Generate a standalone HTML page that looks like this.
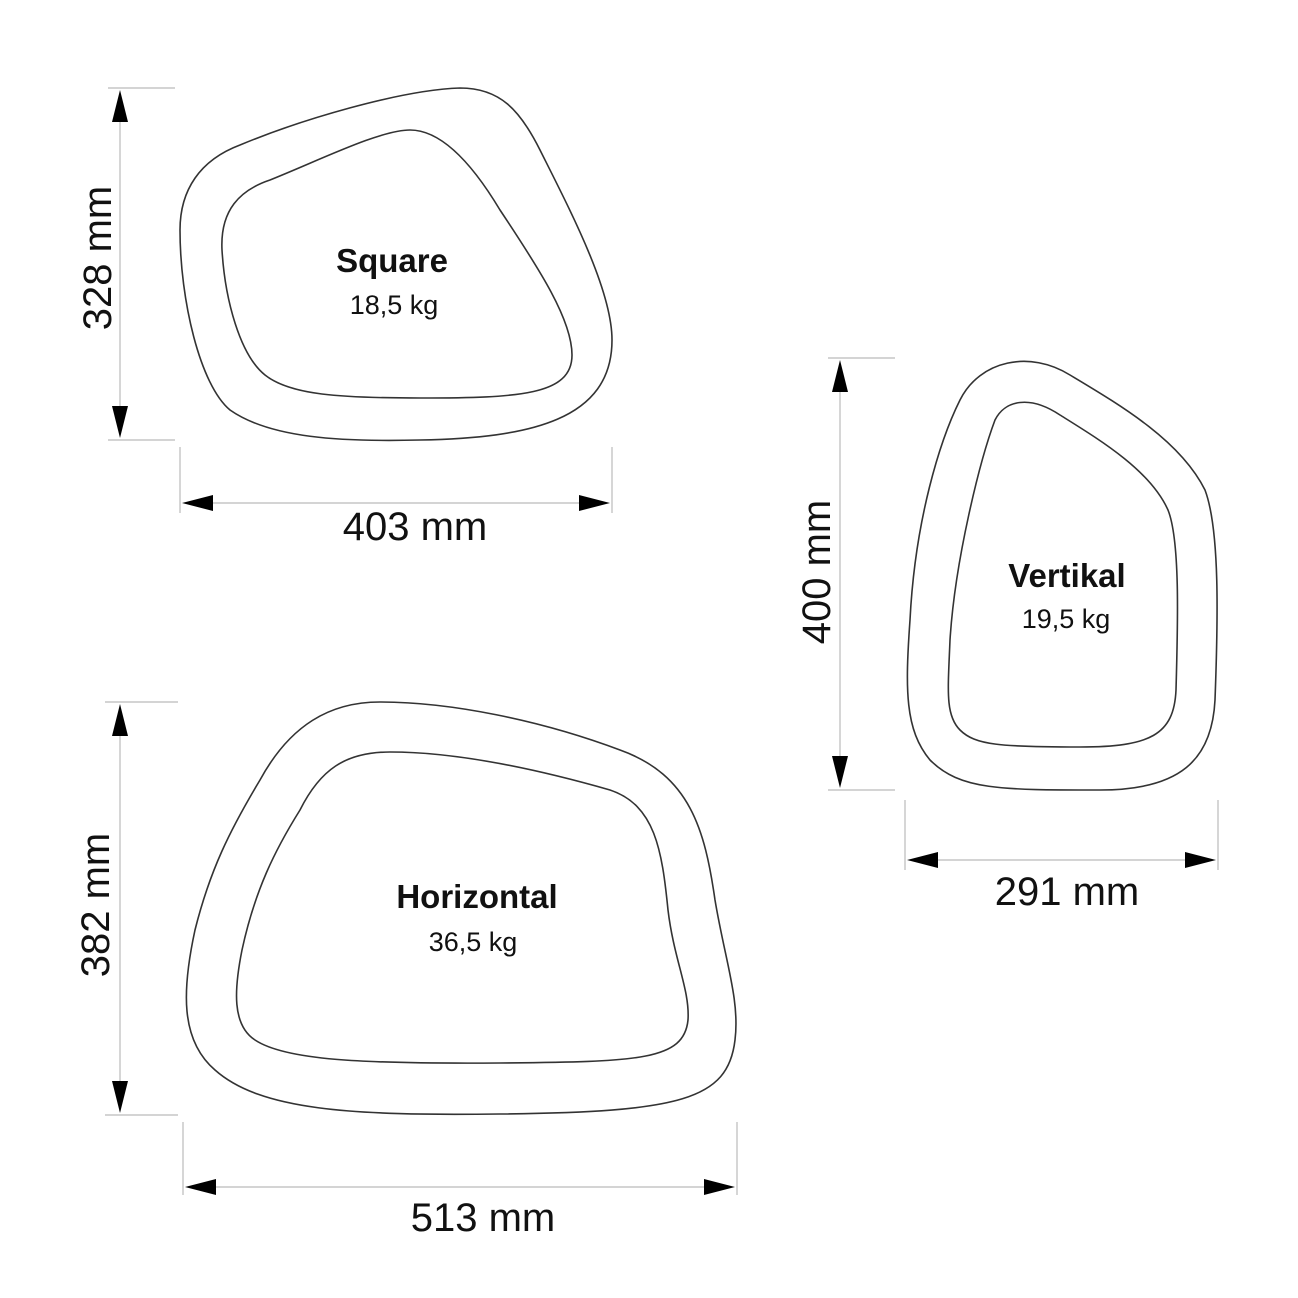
<!DOCTYPE html>
<html><head><style>
html,body{margin:0;padding:0;background:#fff;}
svg{display:block;}
text{font-family:"Liberation Sans Narrow","Liberation Sans",sans-serif;fill:#111;}
</style></head><body>
<svg width="1298" height="1298" viewBox="0 0 1298 1298" xmlns="http://www.w3.org/2000/svg">
<g fill="none" stroke="#333" stroke-width="1.6">
<path d="M 240,145 C 300,120 400,90 460,88 C 500,88 520,110 540,150 C 570,210 612,290 612,340 C 612,420 530,438 420,440 C 340,442 270,438 230,410 C 200,385 180,300 180,230 C 180,190 200,160 240,145 Z"/>
<path d="M 270,180 C 320,160 380,130 410,130 C 440,130 470,160 500,210 C 540,270 572,320 572,355 C 572,395 520,398 420,398 C 340,398 290,395 265,375 C 240,355 225,300 222,250 C 220,210 240,190 270,180 Z"/>
<path d="M 960,400 C 980,360 1030,350 1070,375 C 1120,405 1180,440 1205,490 C 1220,530 1218,620 1215,700 C 1212,760 1180,790 1100,790 C 1000,790 960,790 930,760 C 905,730 905,690 910,620 C 915,520 940,440 960,400 Z"/>
<path d="M 995,420 C 1005,400 1030,395 1060,415 C 1100,440 1150,470 1168,510 C 1180,540 1178,620 1176,690 C 1174,735 1150,747 1080,747 C 1000,747 975,745 960,730 C 945,715 948,690 950,640 C 955,560 980,460 995,420 Z"/>
<path d="M 260,780 C 290,725 330,702 380,702 C 450,702 540,720 620,750 C 690,775 705,830 715,900 C 725,960 740,1000 735,1040 C 728,1100 680,1112 500,1114 C 350,1116 260,1110 215,1070 C 180,1040 182,990 195,930 C 210,870 230,830 260,780 Z"/>
<path d="M 300,810 C 320,770 345,752 390,752 C 460,752 540,770 610,790 C 655,805 662,850 668,910 C 674,960 690,990 688,1020 C 684,1060 640,1062 500,1063 C 360,1064 285,1060 255,1040 C 232,1025 234,990 242,950 C 255,890 275,850 300,810 Z"/>
</g>
<g stroke="#bbb" stroke-width="1.2" fill="none">
<line x1="108" y1="88" x2="175" y2="88"/><line x1="108" y1="440" x2="175" y2="440"/><line x1="120" y1="118" x2="120" y2="410"/>
<line x1="180" y1="447" x2="180" y2="513"/><line x1="612" y1="447" x2="612" y2="513"/><line x1="210" y1="503" x2="582" y2="503"/>
<line x1="828" y1="358" x2="895" y2="358"/><line x1="828" y1="790" x2="895" y2="790"/><line x1="840" y1="388" x2="840" y2="760"/>
<line x1="905" y1="800" x2="905" y2="870"/><line x1="1218" y1="800" x2="1218" y2="870"/><line x1="935" y1="860" x2="1188" y2="860"/>
<line x1="105" y1="702" x2="178" y2="702"/><line x1="105" y1="1115" x2="178" y2="1115"/><line x1="120" y1="732" x2="120" y2="1085"/>
<line x1="183" y1="1122" x2="183" y2="1195"/><line x1="737" y1="1122" x2="737" y2="1195"/><line x1="213" y1="1187" x2="707" y2="1187"/>
</g>
<g fill="#000">
<polygon points="120,90 112,122 128,122"/><polygon points="120,438 112,406 128,406"/>
<polygon points="182,503 213,495 213,511"/><polygon points="610,503 579,495 579,511"/>
<polygon points="840,360 832,392 848,392"/><polygon points="840,788 832,756 848,756"/>
<polygon points="907,860 938,852 938,868"/><polygon points="1216,860 1185,852 1185,868"/>
<polygon points="120,704 112,736 128,736"/><polygon points="120,1113 112,1081 128,1081"/>
<polygon points="185,1187 216,1179 216,1195"/><polygon points="735,1187 704,1179 704,1195"/>
</g>
<g font-size="40" text-anchor="middle">
<text transform="translate(111,258) rotate(-90)">328 mm</text>
<text x="415" y="540">403 mm</text>
<text transform="translate(830,572) rotate(-90)">400 mm</text>
<text x="1067" y="905">291 mm</text>
<text transform="translate(109,905) rotate(-90)">382 mm</text>
<text x="483" y="1231">513 mm</text>
</g>
<g text-anchor="middle">
<text x="392" y="272" font-size="33" font-weight="bold">Square</text>
<text x="394" y="314" font-size="27">18,5 kg</text>
<text x="1067" y="587" font-size="33" font-weight="bold">Vertikal</text>
<text x="1066" y="628" font-size="27">19,5 kg</text>
<text x="477" y="908" font-size="33" font-weight="bold">Horizontal</text>
<text x="473" y="951" font-size="27">36,5 kg</text>
</g>
</svg>
</body></html>
